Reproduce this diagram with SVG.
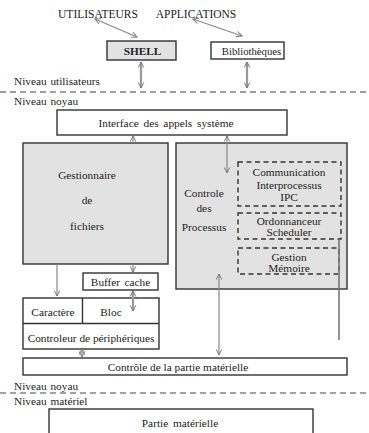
<svg xmlns="http://www.w3.org/2000/svg" width="369" height="433" viewBox="0 0 369 433">
<style>
text{font-family:"Liberation Serif","Times New Roman",serif;font-size:11.3px;fill:#222;text-anchor:middle;dominant-baseline:central}
.lbl{text-anchor:start}
.box{fill:#fff;stroke:#333;stroke-width:1.4}
.gbox{fill:#e2e2e2;stroke:#333;stroke-width:1.4}
.dbox{fill:none;stroke:#333;stroke-width:1.4;stroke-dasharray:5 3.5}
.sep{stroke:#444;stroke-width:1.2;stroke-dasharray:6 4}
.con{stroke:#888;stroke-width:1.2;fill:none}
.fat{stroke:#999;stroke-width:2.2;fill:none}
</style>
<defs>
<marker id="ah" viewBox="0 0 10 10" refX="9" refY="5" markerWidth="7" markerHeight="7" markerUnits="userSpaceOnUse" orient="auto-start-reverse">
<path d="M1,1 L9,5 L1,9" fill="none" stroke="#777" stroke-width="1.4"/>
</marker>
</defs>

<text x="98" y="14" style="font-size:11.5px">UTILISATEURS</text>
<text x="196" y="14" style="font-size:11.5px">APPLICATIONS</text>
<text class="lbl" x="14" y="81" style="word-spacing:1px">Niveau utilisateurs</text>
<line class="sep" x1="0" y1="92" x2="369" y2="92"/>
<text class="lbl" x="14" y="101" style="word-spacing:1px">Niveau noyau</text>
<text class="lbl" x="14" y="386" style="word-spacing:1px">Niveau noyau</text>
<line class="sep" x1="0" y1="393" x2="369" y2="393"/>
<text class="lbl" x="14" y="401" style="word-spacing:1px">Niveau matériel</text>

<g id="shell">
<rect class="gbox" x="107" y="41" width="69" height="19"/>
<text x="142.5" y="50.5" style="font-weight:bold;font-size:11.3px">SHELL</text>
</g>
<g id="bibliotheques">
<rect class="box" x="211" y="42" width="73" height="17"/>
<text x="251.5" y="50.5" style="font-size:10.7px">Bibliothèques</text>
</g>
<g id="interface">
<rect class="box" x="57" y="110" width="230" height="25"/>
<text x="166" y="122.5" style="word-spacing:2px">Interface des appels système</text>
</g>
<g id="gestionnaire">
<rect class="gbox" x="23" y="143" width="145" height="121"/>
<text x="87" y="175">Gestionnaire</text>
<text x="87" y="200">de</text>
<text x="87" y="226">fichiers</text>
</g>
<g id="controle">
<rect class="gbox" x="176" y="143" width="171" height="146"/>
<text x="204" y="193">Controle</text>
<text x="204" y="208">des</text>
<text x="204" y="227">Processus</text>
</g>
<g id="ipc">
<rect class="dbox" x="238" y="162" width="103" height="44"/>
<text x="289" y="172">Communication</text>
<text x="289" y="184.5">Interprocessus</text>
<text x="289" y="197">IPC</text>
</g>
<g id="scheduler">
<rect class="dbox" x="238" y="213" width="103" height="26"/>
<text x="289" y="221">Ordonnanceur</text>
<text x="289" y="232">Scheduler</text>
</g>
<g id="memoire">
<rect class="dbox" x="238" y="248" width="101" height="26"/>
<text x="289" y="257">Gestion</text>
<text x="289" y="267.5">Mémoire</text>
</g>
<g id="buffer">
<rect class="box" x="83" y="273" width="75" height="17"/>
<text x="120.5" y="281.5" style="word-spacing:1.5px">Buffer cache</text>
</g>
<g id="peripheriques">
<rect class="box" x="23" y="298" width="136" height="51"/>
<line x1="23" y1="323.5" x2="159" y2="323.5" stroke="#333" stroke-width="1.4"/>
<line x1="82.5" y1="298" x2="82.5" y2="323.5" stroke="#333" stroke-width="1.4"/>
<text x="53" y="312">Caractère</text>
<text x="111" y="312">Bloc</text>
<text x="91" y="337.5">Controleur de périphériques</text>
</g>
<g id="controle-materiel">
<rect class="box" x="23" y="358" width="324" height="17"/>
<text x="178" y="367">Contrôle de la partie matérielle</text>
</g>
<g id="partie-materielle">
<rect class="box" x="49" y="409" width="264" height="30"/>
<text x="180" y="423" style="word-spacing:2px">Partie matérielle</text>
</g>

<g id="connectors">
<line class="con" x1="95" y1="19" x2="137" y2="37" marker-start="url(#ah)" marker-end="url(#ah)"/>
<line class="con" x1="193" y1="19" x2="242" y2="36" marker-start="url(#ah)" marker-end="url(#ah)"/>
<line class="fat" x1="141" y1="62" x2="141" y2="88" marker-start="url(#ah)" marker-end="url(#ah)"/>
<line class="fat" x1="247" y1="62" x2="247" y2="88" marker-start="url(#ah)" marker-end="url(#ah)"/>
<line class="con" x1="133" y1="143" x2="133" y2="136" marker-end="url(#ah)"/>
<line class="con" x1="227" y1="136" x2="227" y2="173" marker-start="url(#ah)" marker-end="url(#ah)"/>
<line class="con" x1="133" y1="264" x2="133" y2="272" marker-end="url(#ah)"/>
<line class="con" x1="57" y1="264" x2="57" y2="296" marker-end="url(#ah)"/>
<line class="fat" x1="133" y1="291" x2="133" y2="311" marker-start="url(#ah)" marker-end="url(#ah)"/>
<line class="con" x1="82" y1="349" x2="82" y2="357" marker-start="url(#ah)" marker-end="url(#ah)"/>
<line class="con" x1="219" y1="274" x2="219" y2="355" marker-start="url(#ah)" marker-end="url(#ah)"/>
<line x1="339" y1="240" x2="339" y2="340" stroke="#777" stroke-width="1.6"/>
</g>
</svg>
